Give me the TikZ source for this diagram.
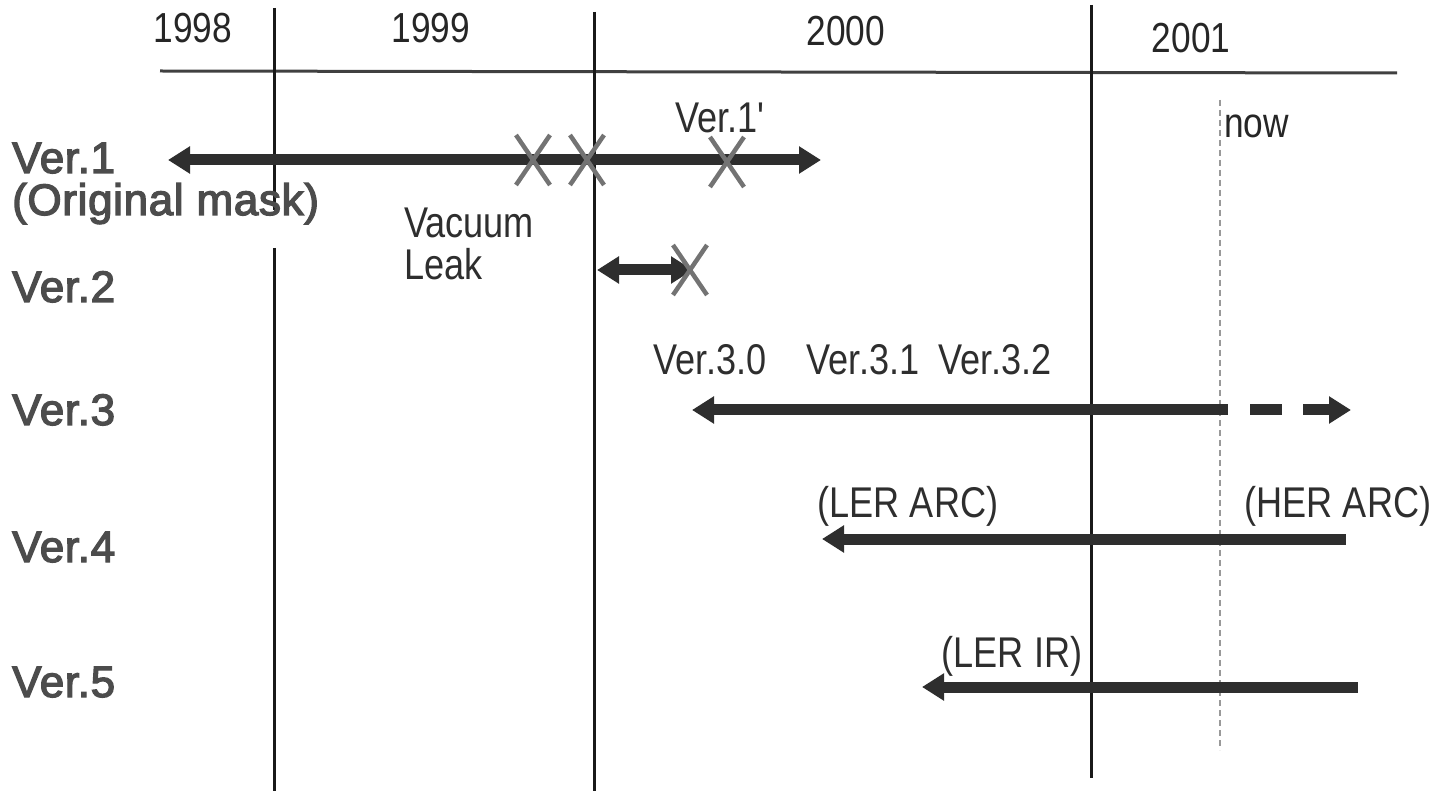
\documentclass[tikz,border=0pt]{standalone}
\usepackage{fontspec}
\setmainfont{Liberation Sans}
\newfontfamily\narrowfont[FakeStretch=0.84]{Liberation Sans}
\newfontfamily\rowfont[FakeBold=3,LetterSpace=1.5]{Liberation Sans}
\usetikzlibrary{arrows.meta}

\begin{document}
\begin{tikzpicture}[x=1pt,y=-1pt,
  yearlbl/.style={font=\narrowfont\fontsize{42}{46}\selectfont, text=black!85, inner sep=0, anchor=base},
  rowlbl/.style={font=\rowfont\fontsize{44}{48}\selectfont, text=black!70, anchor=base west, inner sep=0},
  note/.style={font=\narrowfont\fontsize{43}{48}\selectfont, text=black!82, inner sep=0, anchor=base},
  gridline/.style={line width=3pt, black!90},
  nowline/.style={line width=1.2pt, gray!80, dash pattern=on 6pt off 4pt},
  span/.style={line width=11pt, black!82},
  cross/.style={line width=4.5pt, black!55}
]
\useasboundingbox (0,0) rectangle (1452,791);

% time axis
\coordinate (axL) at (160,71);
\coordinate (axR) at (1397,73);
\draw[line width=3pt, black!75] (axL) -- (axR);

% year boundaries
\coordinate (y98a) at (274,8);   \coordinate (y98b) at (274,210);
\coordinate (y98c) at (274,248); \coordinate (y98d) at (274,791);
\coordinate (y99a) at (594,12);  \coordinate (y99b) at (594,791);
\coordinate (y00a) at (1091,5);  \coordinate (y00b) at (1091,778);
\draw[gridline] (y98a) -- (y98b);
\draw[gridline] (y98c) -- (y98d);
\draw[gridline] (y99a) -- (y99b);
\draw[gridline] (y00a) -- (y00b);

% current date marker
\coordinate (nowA) at (1220,100);
\coordinate (nowB) at (1220,750);
\draw[nowline] (nowA) -- (nowB);
\node[yearlbl, anchor=base west] (now) at (1224,138) {now};

% year labels
\node[yearlbl] (t98) at (193,43) {1998};
\node[yearlbl] (t99) at (431,43) {1999};
\node[yearlbl] (t00) at (846,46) {2000};
\node[yearlbl] (t01) at (1191,53) {2001};

% row labels
\node[rowlbl] (r1)  at (12,173) {Ver.1};
\node[rowlbl] (r1b) at (12,215) {(Original mask)};
\node[rowlbl] (r2)  at (12,302) {Ver.2};
\node[rowlbl] (r3)  at (12,425) {Ver.3};
\node[rowlbl] (r4)  at (12,562) {Ver.4};
\node[rowlbl] (r5)  at (12,697) {Ver.5};

% Ver.1
\coordinate (v1L) at (168,160);
\coordinate (v1R) at (821,160);
\draw[span, {Triangle[width=26pt,length=22pt]}-{Triangle[width=26pt,length=22pt]}] (v1L) -- (v1R);
\node[note] (v1p) at (720,133) {Ver.1'};
\node[note, anchor=base west] (vac) at (404,238) {Vacuum};
\node[note, anchor=base west] (leak) at (404,280) {Leak};

% Ver.2
\coordinate (v2L) at (597,270);
\coordinate (v2R) at (693,270);
\draw[span, {Triangle[width=26pt,length=22pt]}-{Triangle[width=26pt,length=22pt]}] (v2L) -- (v2R);

% failure marks
\foreach \n/\cx/\cy in {xa/533/160, xb/587/160, xc/727/162, xd/690/270}{
  \coordinate (\n) at (\cx,\cy);
  \draw[cross] ([shift={(-17,-25)}]\n) -- ([shift={(17,25)}]\n);
  \draw[cross] ([shift={(17,-25)}]\n) -- ([shift={(-17,25)}]\n);
}

% Ver.3
\node[note] (v30) at (710,375) {Ver.3.0};
\node[note] (v31) at (863,375) {Ver.3.1};
\node[note] (v32) at (995,375) {Ver.3.2};
\coordinate (v3L) at (692,410);
\coordinate (v3M) at (1228,410);
\coordinate (v3d1) at (1250,410);
\coordinate (v3d2) at (1282,410);
\coordinate (v3d3) at (1303,410);
\coordinate (v3R) at (1351,410);
\draw[span, {Triangle[width=26pt,length=22pt]}-] (v3L) -- (v3M);
\draw[span] (v3d1) -- (v3d2);
\draw[span, -{Triangle[width=26pt,length=22pt]}] (v3d3) -- (v3R);

% Ver.4
\node[note] (ler) at (908,518) {(LER ARC)};
\node[note] (her) at (1338,518) {(HER ARC)};
\coordinate (v4L) at (822,539);
\coordinate (v4R) at (1346,539);
\draw[span, {Triangle[width=26pt,length=22pt]}-] (v4L) -- (v4R);

% Ver.5
\node[note] (lerir) at (1012,667) {(LER IR)};
\coordinate (v5L) at (922,687);
\coordinate (v5R) at (1358,687);
\draw[span, {Triangle[width=26pt,length=22pt]}-] (v5L) -- (v5R);
\end{tikzpicture}
\end{document}
